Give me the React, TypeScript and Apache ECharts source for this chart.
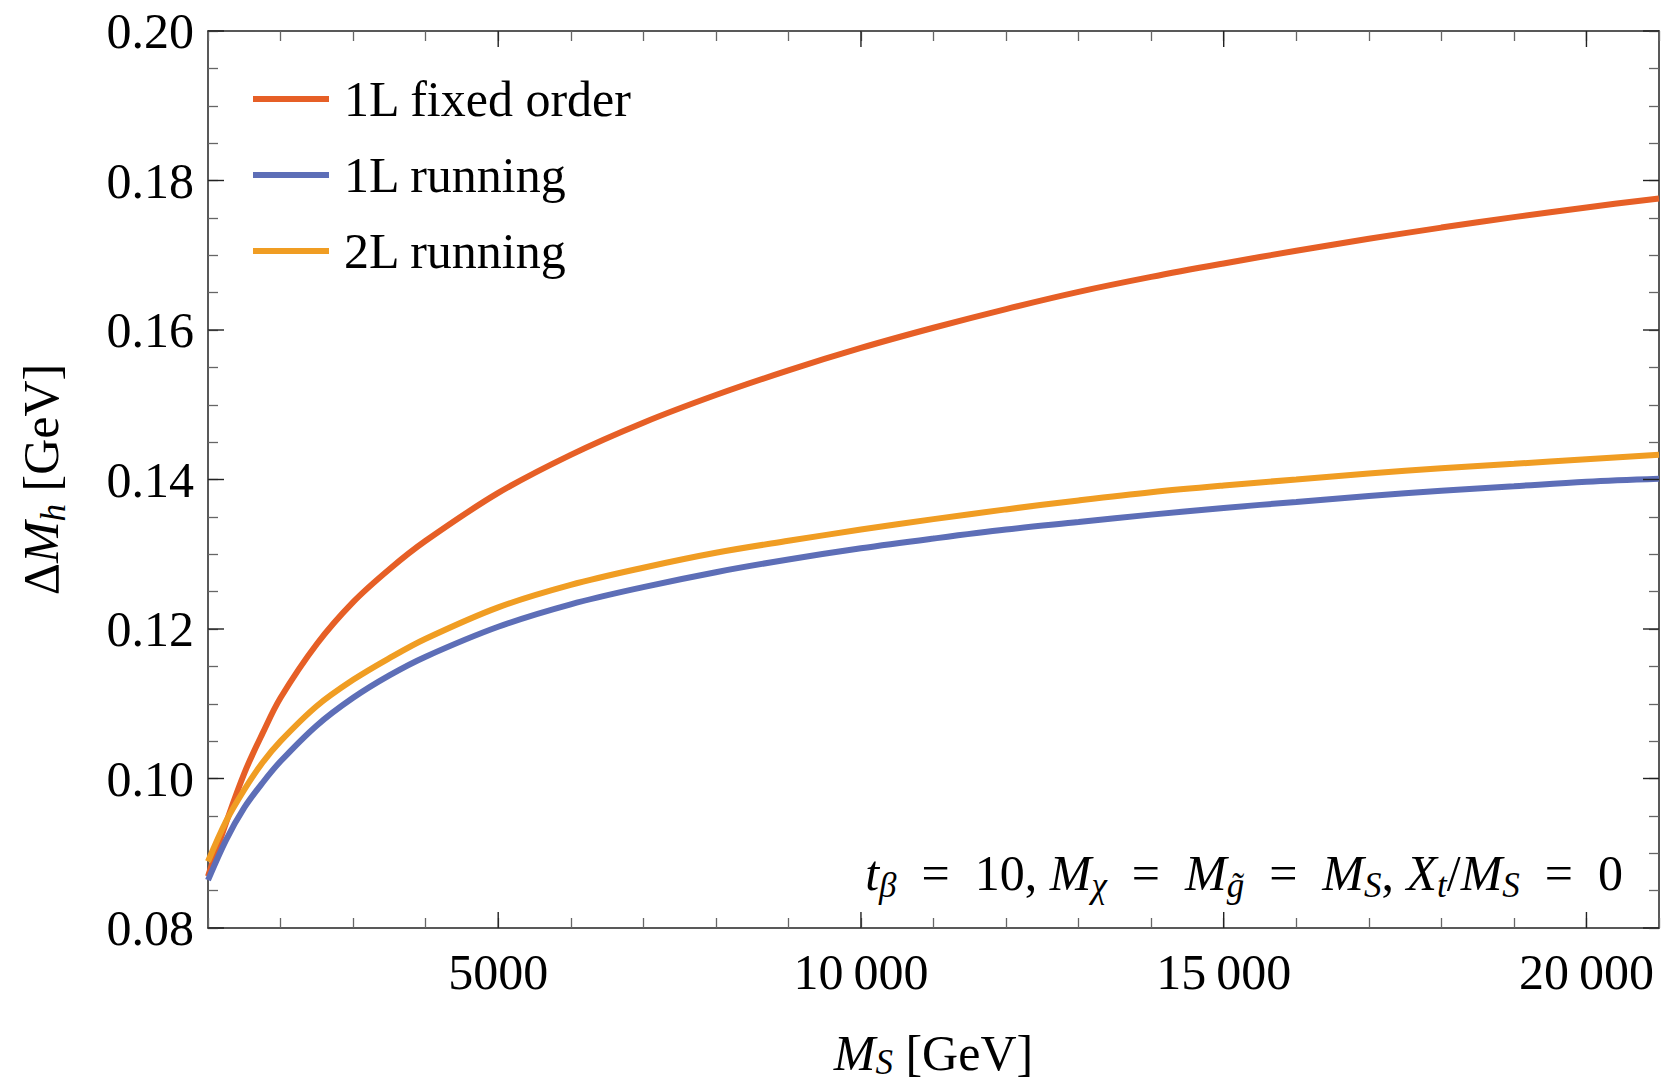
import React, { useEffect, useRef } from 'react';
import * as echarts from 'echarts';

// ---------------- data ----------------
const msValues = [1000, 1250, 1500, 1750, 2000, 2500, 3000, 3500, 4000, 5000, 6000, 7000, 8000, 9000, 10000, 11000, 12000, 13000, 14000, 15000, 16000, 17000, 18000, 19000, 20000, 21000];
const fixedOrder1L = [0.0869, 0.0941, 0.1007, 0.1060, 0.1108, 0.1180, 0.1236, 0.1280, 0.1318, 0.1382, 0.1433, 0.1476, 0.1513, 0.1546, 0.1576, 0.1603, 0.1628, 0.1651, 0.1671, 0.1689, 0.1706, 0.1722, 0.1737, 0.1751, 0.1764, 0.1776];
const running1L = [0.0864, 0.0918, 0.0961, 0.0994, 0.1023, 0.1071, 0.1108, 0.1138, 0.1163, 0.1203, 0.1233, 0.1256, 0.1276, 0.1293, 0.1308, 0.1321, 0.1333, 0.1343, 0.1353, 0.1362, 0.1370, 0.1378, 0.1385, 0.1391, 0.1397, 0.1401];
const running2L = [0.0889, 0.0943, 0.0985, 0.1021, 0.1050, 0.1097, 0.1132, 0.1161, 0.1187, 0.1229, 0.1259, 0.1282, 0.1302, 0.1318, 0.1333, 0.1347, 0.1360, 0.1372, 0.1383, 0.1392, 0.1400, 0.1408, 0.1415, 0.1421, 0.1427, 0.1433];
const seriesNames = ['1L fixed order', '1L running', '2L running'];
const seriesColors = ['#E65F26', '#5D6EB7', '#F09D23'];
const xMin = 1000;
const xMax = 21000;
const xMinorStep = 1000;
const xMajorTicks = [5000, 10000, 15000, 20000];
const yMin = 0.08;
const yMax = 0.2;
const yMinorStep = 0.005;
const yMajorTicks = [0.08, 0.1, 0.12, 0.14, 0.16, 0.18, 0.2];

const FONT = 'Liberation Serif';
const EQ = '\u2002=\u2002';

const mathRich = (size: number, subSize: number, lh: number) => ({
  i: { fontFamily: FONT, fontStyle: 'italic', fontSize: size, lineHeight: lh, color: '#000', fill: '#000' },
  n: { fontFamily: FONT, fontStyle: 'normal', fontSize: size, lineHeight: lh, color: '#000', fill: '#000' },
  s: { fontFamily: FONT, fontStyle: 'italic', fontSize: subSize, lineHeight: subSize, verticalAlign: 'bottom', color: '#000', fill: '#000' },
});

const fmtX = (v: number) => {
  if (v % 5000 !== 0) return '';
  const s = String(v);
  return v >= 10000 ? s.replace(/\B(?=(\d{3})+(?!\d))/g, '\u2009') : s;
};
const fmtY = (v: number) => {
  const k = v / 0.02;
  return Math.abs(k - Math.round(k)) < 1e-6 ? v.toFixed(2) : '';
};

export default function App() {
  const ref = useRef<HTMLDivElement>(null);
  useEffect(() => {
    if (!ref.current) return;
    const chart = echarts.init(ref.current, undefined, { renderer: 'svg' });
    const frameLine = { show: true, lineStyle: { color: '#222', width: 1.5 } };
    const minorTick = { show: true, inside: true, length: 10, lineStyle: { color: '#666', width: 1.3 } };
    const tickStyle = { stroke: '#222', lineWidth: 1.4 };
    const mk = (arr: number[]) => msValues.map((x, i) => [x, arr[i]]);
    const option: any = {
      animation: false,
      backgroundColor: '#fff',
      textStyle: { fontFamily: FONT },
      grid: { left: 208, top: 31, right: 3, bottom: 158, containLabel: false, outerBoundsMode: 'none' },
      xAxis: [
        {
          type: 'value', position: 'bottom', min: xMin, max: xMax, interval: xMinorStep,
          axisLine: frameLine, axisTick: minorTick, splitLine: { show: false },
          axisLabel: { formatter: fmtX, fontSize: 50, fontFamily: FONT, color: '#000', margin: 19 },
          name: '{i|M}{s|S}{n| [GeV]}', nameLocation: 'middle', nameGap: 98,
          nameTextStyle: { rich: mathRich(50, 35, 54) },
        },
        {
          type: 'value', position: 'top', min: xMin, max: xMax, interval: xMinorStep,
          axisLine: frameLine, axisTick: minorTick, splitLine: { show: false },
          axisLabel: { show: false },
        },
      ],
      yAxis: [
        {
          type: 'value', position: 'left', min: yMin, max: yMax, interval: yMinorStep,
          axisLine: frameLine, axisTick: minorTick, splitLine: { show: false },
          axisLabel: { formatter: fmtY, fontSize: 50, fontFamily: FONT, color: '#000', margin: 14 },
          name: '{n|Δ}{i|M}{s|h}{n| [GeV]}', nameLocation: 'middle', nameGap: 137, nameRotate: 90,
          nameTextStyle: { rich: mathRich(50, 35, 60) },
        },
        {
          type: 'value', position: 'right', min: yMin, max: yMax, interval: yMinorStep,
          axisLine: frameLine, axisTick: minorTick, splitLine: { show: false },
          axisLabel: { show: false },
        },
      ],
      legend: {
        data: seriesNames.map((n) => ({ name: n, icon: 'rect' })),
        orient: 'vertical', left: 248, top: 69,
        itemWidth: 76, itemHeight: 6, itemGap: 26,
        itemStyle: { borderWidth: 0 },
        selectedMode: false,
        textStyle: { fontSize: 50, fontFamily: FONT, color: '#000', lineHeight: 50, padding: [0, 0, 0, 10] },
      },
      graphic: [
        {
          type: 'text', right: 39, top: 848, z: 10,
          style: {
            text: `{i|t}{s|β}{n|${EQ}10, }{i|M}{s|χ}{n|${EQ}}{i|M}{s|g\u0303}{n|${EQ}}{i|M}{s|S}{n|, }{i|X}{s|t}{n|/}{i|M}{s|S}{n|${EQ}0}`,
            rich: mathRich(50, 35, 60),
            fontFamily: FONT, fontSize: 50, fill: '#000',
          },
        },
      ],
      series: [
        ...[fixedOrder1L, running1L, running2L].map((arr, i) => ({
          name: seriesNames[i], type: 'line', data: mk(arr),
          showSymbol: false, smooth: 0.35,
          color: seriesColors[i],
          itemStyle: { color: seriesColors[i] },
          lineStyle: { color: seriesColors[i], width: 6 },
          z: 3 + i,
        })),
        {
          type: 'custom', name: 'xMajor', silent: true, z: 6,
          data: xMajorTicks.map((v) => [v, yMin]),
          renderItem: (params: any, api: any) => {
            const x = api.value(0);
            const b = api.coord([x, yMin]);
            const t = api.coord([x, yMax]);
            return {
              type: 'group', children: [
                { type: 'line', shape: { x1: b[0], y1: b[1], x2: b[0], y2: b[1] - 16 }, style: tickStyle },
                { type: 'line', shape: { x1: t[0], y1: t[1], x2: t[0], y2: t[1] + 16 }, style: tickStyle },
              ],
            };
          },
        },
        {
          type: 'custom', name: 'yMajor', silent: true, z: 6,
          data: yMajorTicks.map((v) => [xMin, v]),
          renderItem: (params: any, api: any) => {
            const y = api.value(1);
            const l = api.coord([xMin, y]);
            const r = api.coord([xMax, y]);
            return {
              type: 'group', children: [
                { type: 'line', shape: { x1: l[0], y1: l[1], x2: l[0] + 16, y2: l[1] }, style: tickStyle },
                { type: 'line', shape: { x1: r[0], y1: r[1], x2: r[0] - 16, y2: r[1] }, style: tickStyle },
              ],
            };
          },
        },
      ],
    };
    chart.setOption(option);
    return () => chart.dispose();
  }, []);
  return (
    <div
      ref={ref}
      style={{ position: 'absolute', left: 0, top: 0, width: 1662, height: 1086, background: '#fff' }}
    />
  );
}
